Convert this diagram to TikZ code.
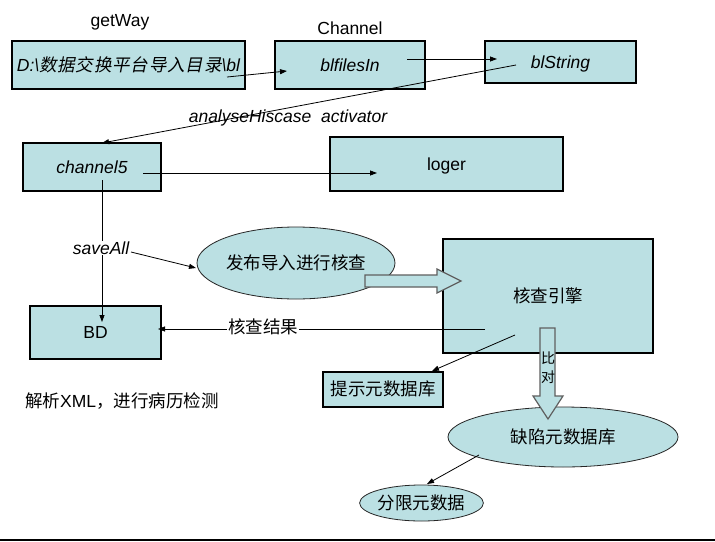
\documentclass[tikz,border=0pt]{standalone}
\usepackage{fontspec}
\setmainfont{Liberation Sans}
\newfontfamily\cjk{Noto Sans CJK SC}
\newfontfamily\cjkit[FakeSlant=0.2]{Noto Sans CJK SC}
\usetikzlibrary{arrows.meta,shapes.geometric,calc}
\definecolor{tealfill}{HTML}{BBE0E3}
\definecolor{arrgray}{HTML}{5F5F5F}
\newcommand\fsz{\fontsize{17.5}{21}\selectfont}
\newcommand\fsm{\fontsize{14}{16}\selectfont}
\begin{document}
\begin{tikzpicture}[x=1pt,y=-1pt,
  box/.style={draw=black,line width=1.2pt,fill=tealfill,rectangle,inner sep=0pt,font=\fsz,text height=12.6pt,text depth=0pt},
  ell/.style={draw=black!85,line width=0.8pt,fill=tealfill,ellipse,inner sep=0pt,font=\fsz,text height=12.6pt,text depth=0pt},
  conn/.style={line width=0.8pt,-{Triangle[length=7pt,width=5pt]}},
  lab/.style={inner sep=1pt,font=\fsz},
  blockarrow/.style={fill=tealfill,draw=arrgray,line width=1.2pt,line join=miter}
  ]
\fill[white] (0,0) rectangle (715,541);
\useasboundingbox (0,0) rectangle (715,541);

% labels
\node[lab] (lgetway) at (120,22) {getWay};
\node[lab] (lchannel) at (350,28) {Channel};

% boxes
\node[box,minimum width=233pt,minimum height=48pt] (d) at (128.5,65)
  {\itshape D:\textbackslash{\cjkit 数\kern0.8pt 据\kern0.8pt 交\kern0.8pt 换\kern0.8pt 平\kern0.8pt 台\kern0.8pt 导\kern0.8pt 入\kern0.8pt 目\kern0.8pt 录}\textbackslash bl};
\node[box,minimum width=150pt,minimum height=48pt] (bfi) at (350,65) {\itshape blfilesIn};
\node[box,minimum width=151pt,minimum height=42pt] (bs) at (560.5,62) {\itshape blString};
\node[box,minimum width=138pt,minimum height=48pt] (ch5) at (92,167) {\itshape channel5};
\node[box,minimum width=233pt,minimum height=54pt] (log) at (446.5,164) {loger};
\node[box,minimum width=131pt,minimum height=53pt] (bd) at (95.5,332.5) {BD};
\node[ell,minimum width=186pt,minimum height=72pt] (e1) at (296,263) {\cjk 发布导入进行核查};
\node[box,minimum width=210pt,minimum height=114pt] (eng) at (548,296) {\cjk 核查引擎};
\node[box,minimum width=120pt,minimum height=35pt] (tip) at (383,389.5) {\cjk 提示元数据库};
\node[ell,minimum width=230pt,minimum height=60pt] (e2) at (563,437) {\cjk 缺陷元数据库};
\node[ell,minimum width=115pt,minimum height=36pt] (e3) at (421.5,503) {\cjk 分限元数据};

\node[lab,anchor=west] (note) at (24,401) {\cjk 解析\rmfamily XML\cjk ，进行病历检测};

% connector coordinates
\coordinate (dOut) at (227,77);
\coordinate (bfiIn) at (287,71);
\coordinate (bfiOut) at (407,59);
\coordinate (bsIn) at (497,59);
\coordinate (bsOut) at (516,65);
\coordinate (ch5In) at (102,143);
\coordinate (ch5Out) at (143,173);
\coordinate (logIn) at (377,173);
\coordinate (ch5Down) at (102,180);
\coordinate (bdIn) at (102,322);
\coordinate (saOut) at (131,252);
\coordinate (e1In) at (196,268);
\coordinate (engOut) at (485,329);
\coordinate (bdRight) at (158,329);
\coordinate (engOut2) at (515,335);
\coordinate (tipIn) at (432,371);
\coordinate (e2Out) at (479,455);
\coordinate (e3In) at (427,484);

\draw[conn] (dOut) -- (bfiIn);
\draw[conn] (bfiOut) -- (bsIn);
\node[lab,font=\fsz\itshape] (lana) at (288,118) {analyseHiscase\ \ activator};
\draw[conn] (bsOut) -- (ch5In);
\draw[conn] (ch5Out) -- (logIn);
\draw[conn] (ch5Down) -- (bdIn);
\node[lab,fill=white,font=\fsz\itshape,inner sep=0.5pt] (lsave) at (101,248) {saveAll};
\draw[conn] (saOut) -- (e1In);
\draw[conn] (engOut) -- (bdRight);
\node[lab,fill=white] (lres) at (263,327) {\cjk 核查结果};
\draw[conn] (engOut2) -- (tipIn);
\draw[conn] (e2Out) -- (e3In);

% block arrows
\draw[blockarrow] (365,275) -- (437,275) -- (437,269) -- (461,281) -- (437,293) -- (437,287) -- (365,287) -- cycle;
\draw[blockarrow] (540,328) -- (555,328) -- (555,396) -- (563,396) -- (548,419) -- (533,396) -- (540,396) -- cycle;
\node[inner sep=0pt,font=\fsm\cjk] (lbi) at (548,358) {比};
\node[inner sep=0pt,font=\fsm\cjk] (ldui) at (548,377) {对};

% bottom rule
\fill[black] (0,538.5) rectangle (715,541);
\end{tikzpicture}
\end{document}
